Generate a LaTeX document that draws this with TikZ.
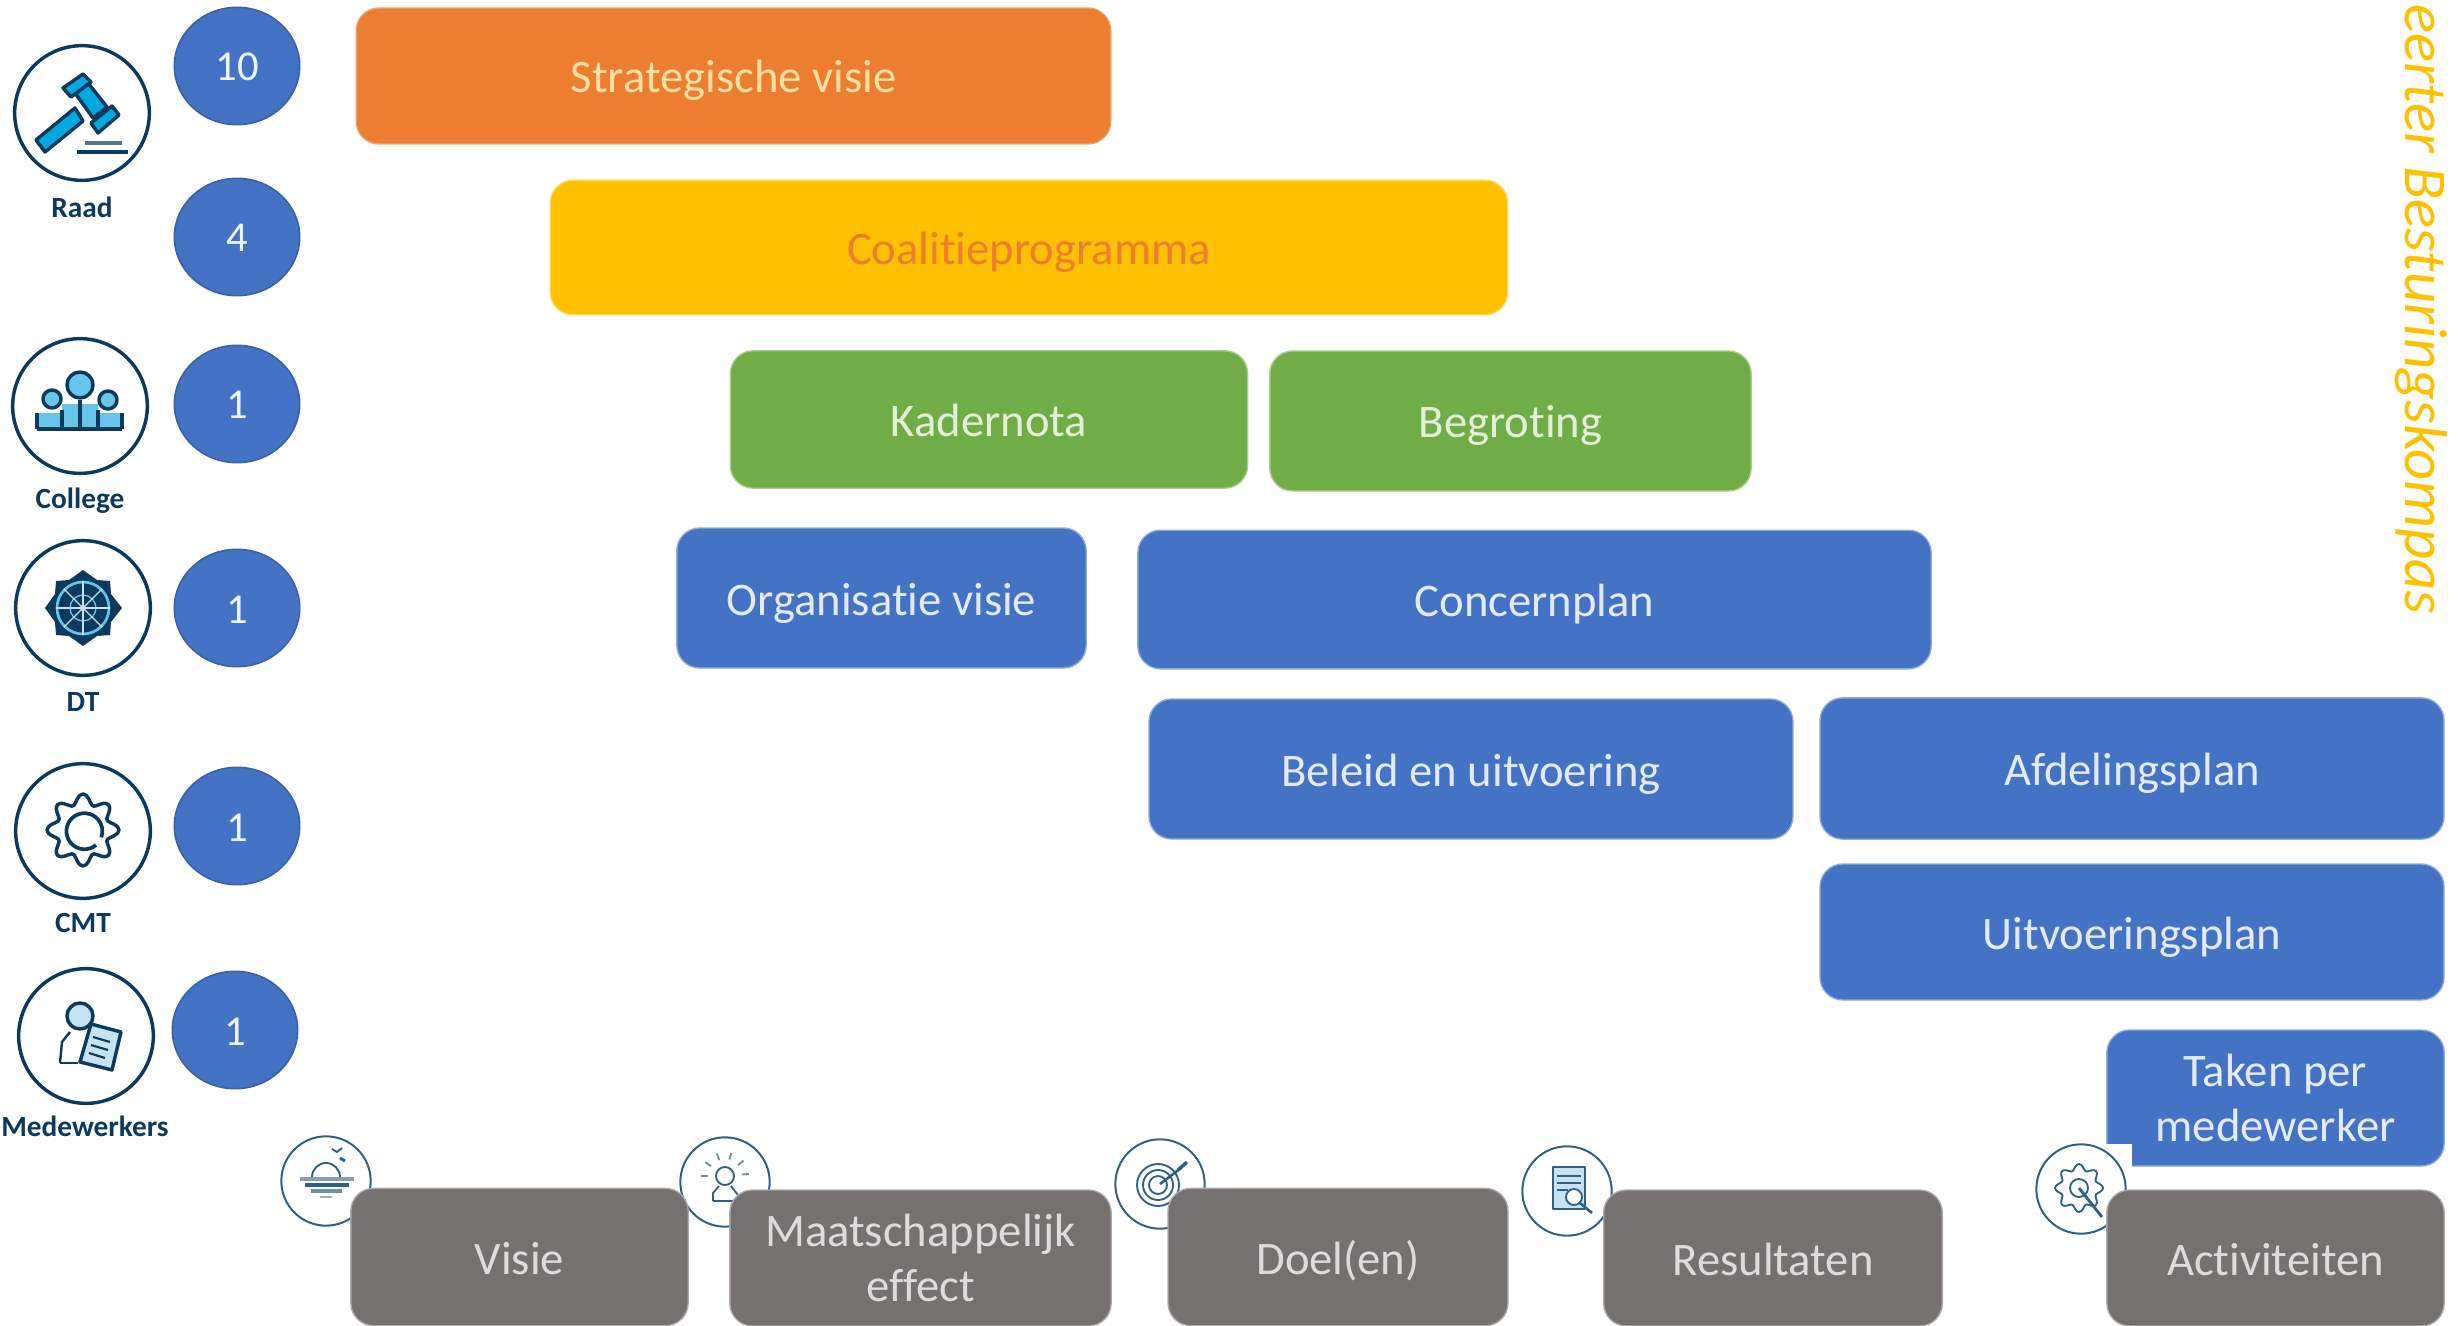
\documentclass[tikz,border=0pt]{standalone}
\usepackage{fontspec}
\setmainfont{Carlito}[Ligatures=NoCommon]
\usetikzlibrary{shapes.geometric}

\definecolor{boxorange}{HTML}{ED7D31}
\definecolor{boxyellow}{HTML}{FFC000}
\definecolor{boxgreen}{HTML}{70AD47}
\definecolor{boxblue}{HTML}{4472C4}
\definecolor{boxgray}{HTML}{767171}
\definecolor{iconnavy}{HTML}{0B3A5E}
\definecolor{iconsteel}{HTML}{2F6185}
\definecolor{iconsky}{HTML}{00A9E0}
\definecolor{iconpale}{HTML}{66C5E8}
\definecolor{iconmist}{HTML}{C5E3F3}
\definecolor{orangetext}{HTML}{FFE0A0}

\tikzset{
	every picture/.style={line width=0.75pt},
	planbox/.style={rounded corners=17pt,line width=1pt,inner sep=0pt,align=center,
		font=\fontsize{35}{41.5}\selectfont},
	oneline/.style={text height=25.5pt,text depth=0pt},
	orangebox/.style={planbox,fill=boxorange,draw=boxorange!70!white,text=orangetext},
	yellowbox/.style={planbox,fill=boxyellow,draw=boxyellow!60!white,text=boxorange},
	greenbox/.style={planbox,fill=boxgreen,draw=boxgreen!60!white,text=boxgreen!20!white},
	bluebox/.style={planbox,fill=boxblue,draw=boxblue!60!white,text=boxblue!15!white},
	graybox/.style={planbox,fill=boxgray,draw=boxgray!60!white,text=boxgray!25!white},
	countoval/.style={ellipse,fill=boxblue,draw=boxblue!85!black,line width=1.2pt,inner sep=0pt,
		minimum width=94pt,minimum height=88pt,text=boxblue!8!white,font=\fontsize{32}{38}\selectfont,
		text height=22.5pt,text depth=0pt},
	rolering/.style={circle,draw=iconnavy,fill=white,line width=2.6pt,inner sep=0pt,minimum size=101pt},
	stepring/.style={circle,draw=iconsteel,fill=white,line width=1.5pt,inner sep=0pt,minimum size=67pt},
	rolelabel/.style={inner sep=0pt,text=iconnavy,font=\fontsize{22}{26}\selectfont\bfseries},
	darkline/.style={draw=iconnavy,line width=2.6pt,line join=round},
	thinline/.style={draw=iconsteel,line width=1.4pt,line join=round}
}

\begin{document}
\begin{tikzpicture}[x=0.75pt,y=0.75pt,yscale=-1,xscale=1]
	\useasboundingbox (0,0) rectangle (2458,1326);

	% plan boxes
	\node (strategie) [orangebox,oneline,minimum width=566pt,minimum height=102pt] at (733.5,76) {Strategische visie};
	\node (coalitie) [yellowbox,oneline,minimum width=718pt,minimum height=101pt] at (1029,247.5) {Coalitieprogramma};
	\node (kadernota) [greenbox,oneline,minimum width=388pt,minimum height=103pt] at (989,419.5) {Kadernota};
	\node (begroting) [greenbox,oneline,minimum width=361pt,minimum height=105pt] at (1510.5,421) {Begroting};
	\node (orgvisie) [bluebox,oneline,minimum width=307pt,minimum height=105pt] at (881.5,598) {Organisatie visie};
	\node (concern) [bluebox,oneline,minimum width=595pt,minimum height=104pt] at (1534.5,599.5) {Concernplan};
	\node (beleid) [bluebox,oneline,minimum width=483pt,minimum height=105pt] at (1471,769) {Beleid en uitvoering};
	\node (afdeling) [bluebox,oneline,minimum width=468pt,minimum height=106pt] at (2132,768.5) {Afdelingsplan};
	\node (uitvoering) [bluebox,oneline,minimum width=468pt,minimum height=102pt] at (2132,932) {Uitvoeringsplan};
	\node (taken) [bluebox,minimum width=253pt,minimum height=102pt] at (2275.5,1098) {Taken per\\medewerker};
	\fill [white] (2100,1144) rectangle (2132,1172);

	% counters
	\node (countraad) [countoval] at (237,66) {10};
	\node (countcoalitie) [countoval] at (237,237) {4};
	\node (countcollege) [countoval] at (237,404) {1};
	\node (countdt) [countoval] at (237,608) {1};
	\node (countcmt) [countoval] at (237,826) {1};
	\node (countmedew) [countoval] at (235,1030) {1};

	% roles
	\node (raad) [rolering] at (82,113) {};
	\node (college) [rolering] at (80,406) {};
	\node (dt) [rolering] at (83,608) {};
	\node (cmt) [rolering] at (83,831) {};
	\node (medew) [rolering] at (86,1036) {};
	\node (raadlabel) [rolelabel] at (82,207) {Raad};
	\node (collegelabel) [rolelabel] at (80,501) {College};
	\node (dtlabel) [rolelabel] at (83,702) {DT};
	\node (cmtlabel) [rolelabel] at (83,923) {CMT};
	\node (medewlabel) [rolelabel] at (85,1126) {Medewerkers};

	% gavel
	\draw [darkline,fill=iconsky] (36,140) -- (75,108) -- (83,121) -- (45,152) -- cycle;
	\draw [darkline,fill=iconsky] (75,93) -- (88,83) -- (107,107) -- (93,118) -- cycle;
	\draw [darkline,fill=iconsky] (63,88) -- (83,74) -- (91,82) -- (71,97) -- cycle;
	\draw [darkline,fill=iconsky] (91,123) -- (112,106) -- (119,115) -- (98,133) -- cycle;
	\draw [darkline,draw opacity=0.7] (85,143) -- (122,143);
	\draw [darkline,line width=3.4pt] (77,152) -- (128,152);

	% college people
	\fill [iconpale] (37,413) rectangle (122,429);
	\fill [iconpale] (62,404) rectangle (98,429);
	\draw [darkline] (37,429) -- (122,429) (37,429) -- (37,413) (122,429) -- (122,413) (62,429) -- (62,410) (98,429) -- (98,410) (80,429) -- (80,400);
	\draw [darkline,fill=iconpale] (80,385) circle (13);
	\draw [darkline,fill=iconpale] (52,399) circle (9);
	\draw [darkline,fill=iconpale] (108,400) circle (9);

	% dt wheel
	\fill [iconnavy] (83,570) -- (97,580) -- (110,581) -- (111,594) -- (122,608) -- (111,622) -- (110,635) -- (97,636) -- (83,646) -- (69,636) -- (56,635) -- (55,622) -- (45,608) -- (55,594) -- (56,581) -- (69,580) -- cycle;
	\draw [iconpale,line width=2pt] (83,608) circle (26);
	\draw [iconpale,line width=1pt] (83,608) circle (13);
	\foreach \a in {0,45,...,315}
		\draw [iconmist,line width=1pt] (83,608) -- +(\a:27);
	\fill [iconmist] (83,608) circle (3);

	% cmt gear
	\draw [darkline] plot [domain=0:355,samples=72,smooth cycle] ({83+(31+5*cos(8*\x))*cos(\x)},{830+(31+5*cos(8*\x))*sin(\x)});
	\draw [darkline,line width=2.8pt] (96,845) arc (50:380:18);

	% medewerker
	\draw [darkline,line width=1.8pt] (60,1063) -- (62,1042) -- (70,1032);
	\draw [darkline,line width=1.8pt] (60,1063) -- (78,1063);
	\draw [darkline,fill=iconmist] (80,1016) circle (13);
	\draw [darkline,fill=iconmist] (91,1024) -- (121,1032) -- (112,1070) -- (80,1062) -- cycle;
	\draw [darkline,line width=1.6pt] (93,1037) -- (110,1042) (91,1045) -- (108,1050) (89,1053) -- (105,1058);

	% step rings, the gray boxes lie over them
	\node (visiering) [stepring] at (326,1181) {};
	\node (effectring) [stepring] at (725,1182) {};
	\node (doelring) [stepring] at (1160,1184) {};
	\node (resultring) [stepring] at (1567,1191) {};
	\node (activring) [stepring] at (2081,1189) {};

	% sunrise
	\draw [thinline] (312,1177) arc (180:360:14);
	\draw [thinline,line width=3pt,draw opacity=0.6] (300,1179) -- (354,1179);
	\draw [thinline,line width=2.5pt] (305,1185) -- (349,1185);
	\draw [thinline,line width=2.5pt,draw opacity=0.7] (311,1191) -- (342,1191);
	\draw [thinline,line width=2pt,draw opacity=0.5] (320,1197) -- (332,1197);
	\draw [thinline] (332,1149) -- (337,1152) -- (342,1148);
	\draw [thinline,line width=2.2pt] (340,1158) -- (345,1161);

	% person with rays
	\draw [thinline] (725,1176) circle (9);
	\draw [thinline] (713,1201) -- (713,1193) -- (719,1186) (731,1186) -- (738,1195) (713,1201) -- (745,1201);
	\foreach \a in {0,35,...,180}
		\draw [thinline,draw opacity=0.7] (725,1176) ++(180+\a:17) -- ++(180+\a:7);

	% target
	\draw [thinline] (1158,1185) circle (9) (1158,1185) circle (15) (1158,1185) circle (21);
	\draw [thinline,line width=2pt] (1160,1184) -- (1181,1168);
	\draw [thinline,line width=2.6pt] (1178,1170) -- (1187,1162);

	% clipboard
	\draw [thinline,fill=iconmist] (1553,1167) rectangle (1585,1209);
	\draw [thinline,line width=2pt] (1557,1176) -- (1581,1176) (1557,1183) -- (1581,1183) (1557,1190) -- (1568,1190);
	\draw [thinline,fill=white] (1574,1197) circle (8);
	\draw [thinline,line width=2pt] (1580,1203) -- (1592,1213);

	% gear with wrench
	\draw [thinline] plot [domain=0:355,samples=72,smooth cycle] ({2079+(21+3*cos(8*\x))*cos(\x)},{1188+(21+3*cos(8*\x))*sin(\x)});
	\draw [thinline] (2079,1188) circle (9);
	\draw [thinline,line width=2.2pt] (2079,1188) -- (2102,1217);

	% step boxes
	\node (visie) [graybox,oneline,minimum width=253pt,minimum height=103pt] at (519.5,1257) {Visie};
	\node (effect) [graybox,minimum width=286pt,minimum height=102pt] at (920.5,1258) {Maatschappelijk\\effect};
	\node (doel) [graybox,oneline,minimum width=255pt,minimum height=103pt] at (1338,1257) {Doel(en)};
	\node (resultaat) [graybox,oneline,minimum width=254pt,minimum height=102pt] at (1773,1258) {Resultaten};
	\node (activiteit) [graybox,oneline,minimum width=253pt,minimum height=102pt] at (2275.5,1258) {Activiteiten};

	% side text
	\node (kompas) [rotate=-90,anchor=base east,inner sep=0pt,text=boxyellow,font=\fontsize{45.5}{52}\selectfont\itshape] at (2405,615) {eerter Besturingskompas};
\end{tikzpicture}
\end{document}
